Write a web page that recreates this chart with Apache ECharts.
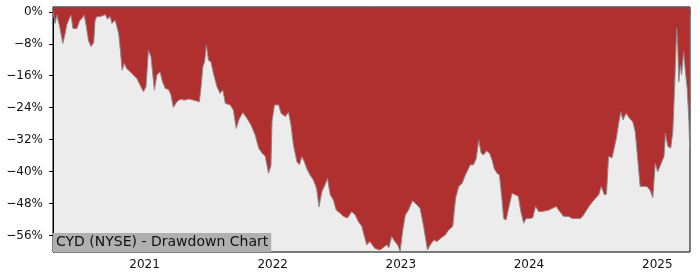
<!DOCTYPE html>
<html>
<head>
<meta charset="utf-8">
<script src="https://cdn.jsdelivr.net/npm/echarts@6/dist/echarts.min.js"></script>
<style>
html,body{margin:0;padding:0;background:#fff;}
#chart{width:700px;height:280px;}
</style>
</head>
<body>
<div id="chart"></div>
<script>
var titleText = 'CYD (NYSE) - Drawdown Chart';
var dates = [
'2020-04-15','2020-04-21','2020-04-26','2020-05-03','2020-05-08','2020-05-13','2020-05-20','2020-05-24','2020-05-29','2020-06-05',
'2020-06-11','2020-06-22','2020-06-30','2020-07-06','2020-07-13','2020-07-19','2020-07-25','2020-08-01','2020-08-09','2020-08-13',
'2020-08-18','2020-08-28','2020-09-11','2020-09-17','2020-09-25','2020-09-30','2020-10-09','2020-10-14','2020-10-19','2020-10-24',
'2020-10-29','2020-11-04','2020-11-11','2020-11-21','2020-11-30','2020-12-10','2020-12-19','2020-12-29','2021-01-05','2021-01-12',
'2021-01-19','2021-01-25','2021-01-29','2021-02-05','2021-02-14','2021-02-21','2021-03-01','2021-03-10','2021-03-17','2021-03-24',
'2021-04-03','2021-04-12','2021-04-27','2021-05-06','2021-05-20','2021-06-06','2021-06-11','2021-06-16','2021-06-21','2021-06-26',
'2021-07-02','2021-07-09','2021-07-16','2021-07-26','2021-08-04','2021-08-12','2021-08-19','2021-09-02','2021-09-11','2021-09-19',
'2021-09-26','2021-10-08','2021-10-20','2021-10-31','2021-11-12','2021-11-22','2021-12-02','2021-12-11','2021-12-20','2021-12-27',
'2021-12-30','2022-01-06','2022-01-18','2022-01-25','2022-02-06','2022-02-15','2022-02-22','2022-03-01','2022-03-11','2022-03-18',
'2022-03-25','2022-04-01','2022-04-08','2022-04-17','2022-04-27','2022-05-06','2022-05-13','2022-05-21','2022-05-30','2022-06-06',
'2022-06-14','2022-06-23','2022-07-01','2022-07-12','2022-07-22','2022-08-02','2022-08-14','2022-08-24','2022-09-02','2022-09-12',
'2022-09-18','2022-09-26','2022-10-05','2022-10-10','2022-10-19','2022-11-02','2022-11-12','2022-11-22','2022-11-28','2022-12-06',
'2022-12-15','2022-12-23','2022-12-30','2023-01-06','2023-01-14','2023-01-23','2023-02-03','2023-02-16','2023-02-25','2023-03-07',
'2023-03-18','2023-03-26','2023-04-05','2023-04-14','2023-04-24','2023-05-08','2023-05-17','2023-05-29','2023-06-06','2023-06-15',
'2023-06-25','2023-07-04','2023-07-18','2023-07-27','2023-08-04','2023-08-11','2023-08-18','2023-08-25','2023-09-02','2023-09-11',
'2023-09-18','2023-09-24','2023-10-02','2023-10-09','2023-10-16','2023-10-21','2023-10-28','2023-11-04','2023-11-14','2023-11-23',
'2023-12-02','2023-12-09','2023-12-17','2023-12-24','2024-01-04','2024-01-12','2024-01-20','2024-01-29','2024-02-12','2024-02-27',
'2024-03-07','2024-03-19','2024-03-29','2024-04-09','2024-04-23','2024-05-03','2024-05-17','2024-05-27','2024-06-05','2024-06-20',
'2024-07-04','2024-07-18','2024-07-25','2024-08-03','2024-08-09','2024-08-15','2024-08-25','2024-08-31','2024-09-06','2024-09-12',
'2024-09-19','2024-09-25','2024-10-04','2024-10-14','2024-10-23','2024-10-30','2024-11-05','2024-11-13','2024-11-22','2024-12-02',
'2024-12-11','2024-12-19','2024-12-26','2025-01-02','2025-01-10','2025-01-20','2025-01-24','2025-01-31','2025-02-08','2025-02-14',
'2025-02-19','2025-02-25','2025-02-28','2025-03-03','2025-03-08','2025-03-11','2025-03-17','2025-03-22','2025-03-27','2025-04-01',
'2025-04-03'
];
var drawdown = [
0,-2.9,-0.8,-3.3,-3.7,-7.9,-5.3,-3.3,-3.1,-0.8,
-4.2,-4.2,-2.2,-1.7,-0.8,-3.7,-7.1,-8.7,-7.7,-2.1,
-1.2,-1.2,-0.7,-1.8,-1.2,-2.9,-2.1,-3.7,-5.4,-9.6,
-14.6,-12.9,-14.2,-15,-15.8,-16.7,-18.3,-20,-18.7,-9.6,
-11.2,-16.2,-19.6,-15.8,-15,-17.5,-19.2,-19.4,-20.8,-23.9,
-22.5,-21.9,-22.1,-21.8,-22.1,-22.5,-18.7,-13.7,-12.5,-8.3,
-12.1,-12.5,-15.4,-18.7,-20.4,-19.6,-22.9,-23.3,-24.6,-29.2,
-27.1,-25.2,-26.7,-28.3,-30.8,-34.1,-35.4,-36.2,-40.4,-38.5,
-27.5,-23.3,-23.3,-25.4,-26.2,-25.1,-28.3,-33.3,-37.5,-38.3,
-36.2,-37.5,-39.2,-40.8,-42.1,-44.2,-48.8,-45,-43.3,-41.7,
-45.8,-47.1,-49.6,-50.4,-51.2,-51.6,-50,-50.8,-52.5,-53.7,
-55.8,-58.3,-57.5,-57.5,-59.2,-59.6,-59,-58.3,-59,-56.2,
-57.5,-58.3,-60,-55,-50.8,-49.6,-47.3,-48.3,-49.2,-53.7,
-59.6,-58.3,-57.1,-57.5,-56.7,-55.8,-54.6,-53.7,-46.7,-43.7,
-42.9,-40.8,-38.3,-38.3,-36.7,-32.1,-35.4,-35.8,-34.8,-35.4,
-37.1,-39.2,-40.4,-40.8,-46.7,-51.7,-52.1,-49.2,-45.4,-45.8,
-46.2,-50,-52.9,-51.7,-51.7,-51.5,-48.7,-50,-49.9,-49.6,
-49.2,-48.7,-50,-51.2,-51.2,-51.7,-51.7,-51.7,-50.8,-48.7,
-47.1,-45.8,-43.7,-45.8,-45.6,-36.2,-36.5,-34.1,-31.7,-28.3,
-25,-27.1,-25.4,-26.7,-27.5,-30,-35.8,-43.7,-43.7,-43.7,
-44.6,-46.5,-37.9,-40,-38.3,-36.2,-30.4,-33.7,-34.1,-30,
-19.2,-4.2,-8.3,-17.5,-13.3,-15.8,-10,-15,-19.2,-27.5,
-34.1
];
var yTicks = [0, -8, -16, -24, -32, -40, -48, -56];
var xTickDates = ['2021-01-01', '2022-01-01', '2023-01-01', '2024-01-01', '2025-01-01'];
var xMin = '2020-04-15', xMax = '2025-04-04';

function ts(d) { return +echarts.number.parseDate(d); }
var seriesData = dates.map(function (d, i) { return [ts(d), drawdown[i]]; });
var xTicks = xTickDates.map(ts);

var chart = echarts.init(document.getElementById('chart'), null, {renderer: 'canvas'});
var font = 'DejaVu Sans';
chart.setOption({
  animation: false,
  backgroundColor: '#ffffff',
  title: {
    text: titleText,
    left: 53, bottom: 28,
    padding: [2, 3, 2, 3],
    backgroundColor: '#b0b0b0',
    textStyle: {fontFamily: font, fontSize: 14, fontWeight: 'normal', color: '#111', lineHeight: 15}
  },
  grid: {
    left: 53, right: 10, top: 7, bottom: 28,
    show: true, backgroundColor: '#ececec', borderColor: '#000', borderWidth: 1
  },
  xAxis: {
    type: 'value',
    min: ts(xMin), max: ts(xMax),
    axisLine: {show: true, lineStyle: {color: '#000', width: 1}},
    axisTick: {show: true, length: 4, lineStyle: {color: '#000'}, customValues: xTicks},
    axisLabel: {
      customValues: xTicks, margin: 7,
      fontFamily: font, fontSize: 12, color: '#111',
      formatter: function (v) { return String(new Date(v).getFullYear()); }
    },
    splitLine: {show: false}
  },
  yAxis: {
    type: 'value',
    min: -60.1, max: 1.2,
    axisLine: {show: true, lineStyle: {color: '#000', width: 1}},
    axisTick: {show: true, length: 4, lineStyle: {color: '#000'}, customValues: yTicks},
    axisLabel: {
      customValues: yTicks, margin: 10,
      fontFamily: font, fontSize: 12, color: '#111',
      formatter: function (v) { return (v < 0 ? '\u2212' + Math.abs(v) : '' + Math.abs(v)) + '%'; }
    },
    splitLine: {show: false}
  },
  series: [{
    type: 'line',
    data: seriesData,
    showSymbol: false,
    symbol: 'none',
    lineStyle: {color: '#8a8a8a', width: 1},
    areaStyle: {color: '#b03030', opacity: 1, origin: 'end'},
    z: 2
  }]
});
</script>
</body>
</html>
